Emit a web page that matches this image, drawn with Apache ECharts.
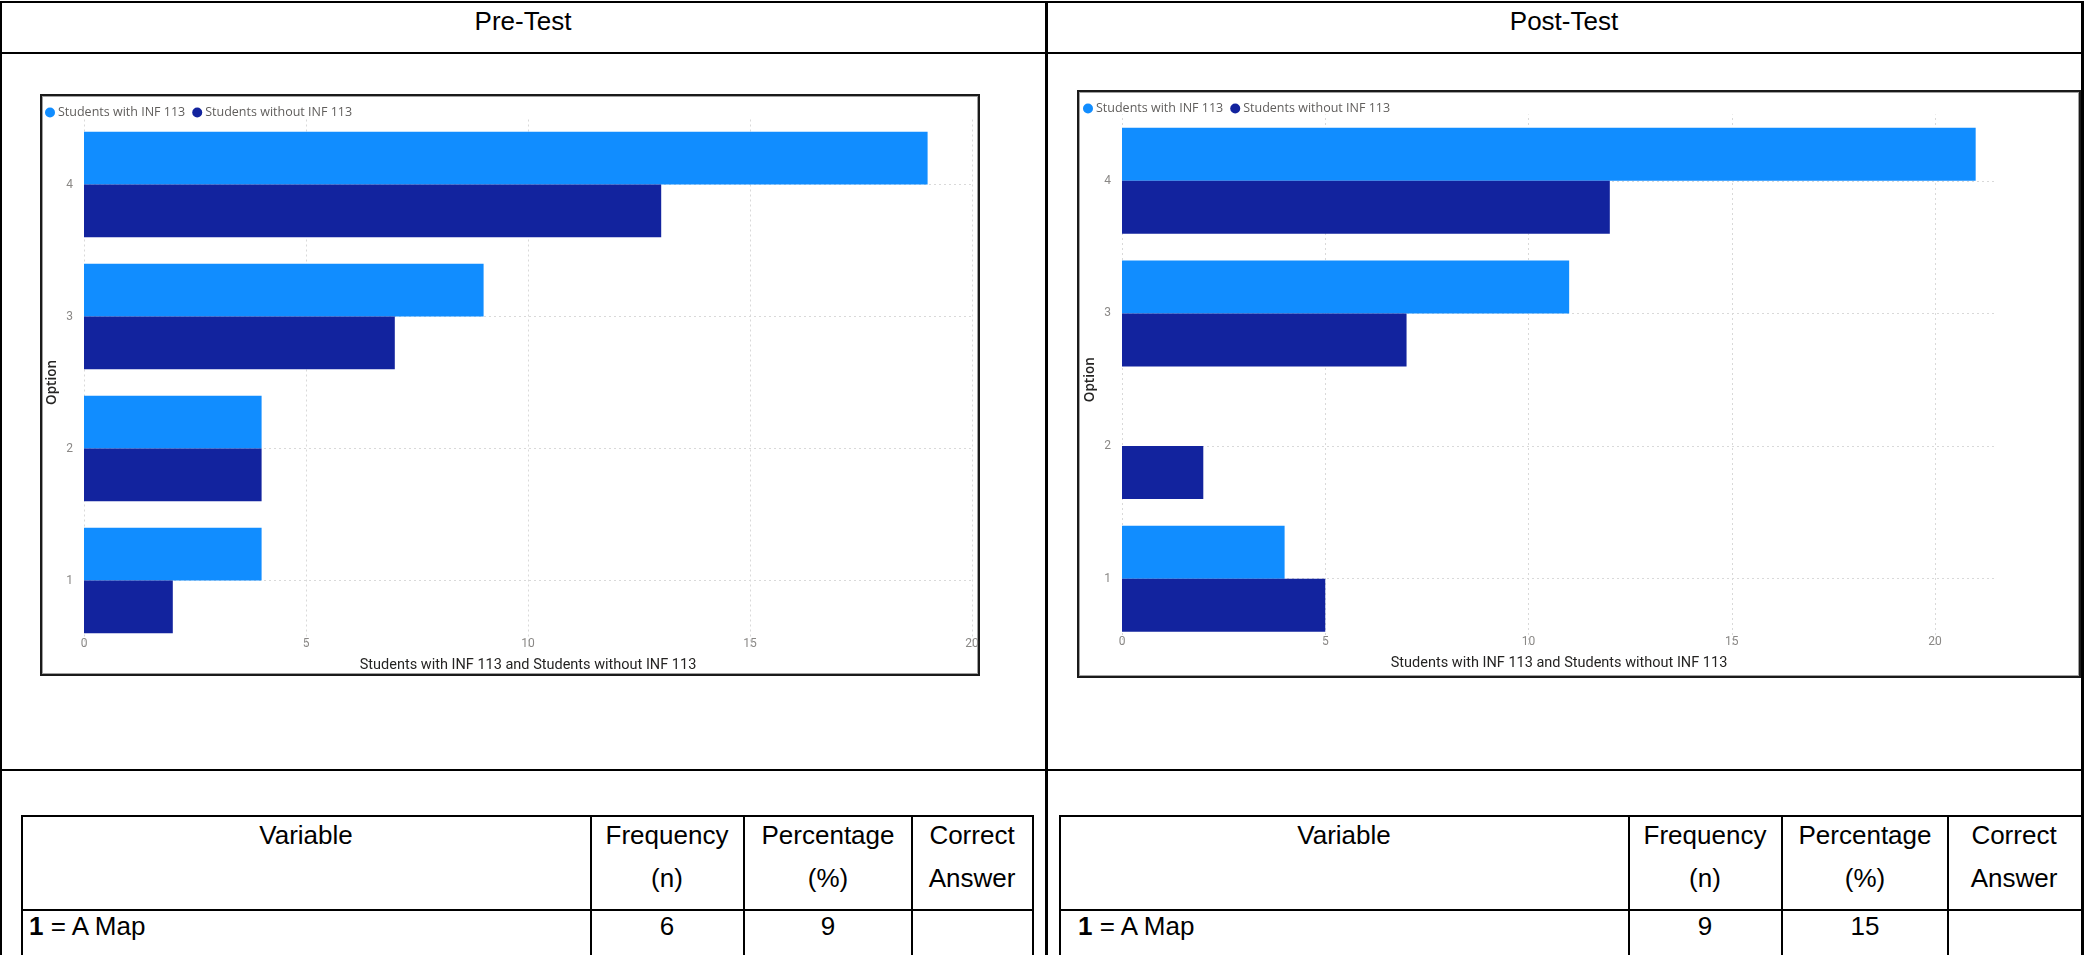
<!DOCTYPE html>
<html>
<head>
<meta charset="utf-8">
<title>Pre-Test / Post-Test</title>
<script src="https://cdn.jsdelivr.net/npm/echarts@6/dist/echarts.min.js"></script>
<style>
  html, body { margin: 0; padding: 0; background: #fff; }
  body { width: 2084px; height: 955px; position: relative; overflow: hidden;
         font-family: 'Liberation Sans', Arial, sans-serif; }
  .ln { position: absolute; background: #000; }
  .t { position: absolute; font-size: 26px; line-height: 30px; color: #000;
       white-space: nowrap; }
  .c { transform: translateX(-50%); }
  .frame { position: absolute; box-sizing: border-box; border: 2px solid #1a1a1a;
           box-shadow: inset 0 0 0 1px #a0a0a0; background: #fff; }
  #chart { position: absolute; left: 0; top: 0; width: 2084px; height: 955px; }
</style>
</head>
<body>

<!-- outer document table -->
<div class="ln" style="left:0;top:1px;width:2084px;height:2px"></div>
<div class="ln" style="left:0;top:1px;width:2px;height:954px"></div>
<div class="ln" style="left:2081px;top:1px;width:3px;height:954px"></div>
<div class="ln" style="left:1045px;top:1px;width:3px;height:954px"></div>
<div class="ln" style="left:0;top:52px;width:2084px;height:2px"></div>
<div class="ln" style="left:0;top:769px;width:2084px;height:2px"></div>

<div class="t c" style="left:523px;top:6px">Pre-Test</div>
<div class="t c" style="left:1564px;top:6px">Post-Test</div>

<!-- chart frames -->
<div class="frame" style="left:40px;top:94px;width:940px;height:582px"></div>
<div class="frame" style="left:1077px;top:90px;width:1004px;height:588px"></div>

<!-- left summary table -->
<div class="ln" style="left:21px;top:815px;width:1013px;height:2px"></div>
<div class="ln" style="left:21px;top:909px;width:1013px;height:2px"></div>
<div class="ln" style="left:21px;top:815px;width:2px;height:140px"></div>
<div class="ln" style="left:590px;top:815px;width:2px;height:140px"></div>
<div class="ln" style="left:743px;top:815px;width:2px;height:140px"></div>
<div class="ln" style="left:911px;top:815px;width:2px;height:140px"></div>
<div class="ln" style="left:1032px;top:815px;width:2px;height:140px"></div>

<div class="t c" style="left:306px;top:820px">Variable</div>
<div class="t c" style="left:667px;top:820px">Frequency</div>
<div class="t c" style="left:667px;top:863px">(n)</div>
<div class="t c" style="left:828px;top:820px">Percentage</div>
<div class="t c" style="left:828px;top:863px">(%)</div>
<div class="t c" style="left:972px;top:820px">Correct</div>
<div class="t c" style="left:972px;top:863px">Answer</div>
<div class="t" style="left:29px;top:911px"><b>1</b> = A Map</div>
<div class="t c" style="left:667px;top:911px">6</div>
<div class="t c" style="left:828px;top:911px">9</div>

<!-- right summary table -->
<div class="ln" style="left:1059px;top:815px;width:1023px;height:2px"></div>
<div class="ln" style="left:1059px;top:909px;width:1023px;height:2px"></div>
<div class="ln" style="left:1059px;top:815px;width:2px;height:140px"></div>
<div class="ln" style="left:1628px;top:815px;width:2px;height:140px"></div>
<div class="ln" style="left:1781px;top:815px;width:2px;height:140px"></div>
<div class="ln" style="left:1947px;top:815px;width:2px;height:140px"></div>

<div class="t c" style="left:1344px;top:820px">Variable</div>
<div class="t c" style="left:1705px;top:820px">Frequency</div>
<div class="t c" style="left:1705px;top:863px">(n)</div>
<div class="t c" style="left:1865px;top:820px">Percentage</div>
<div class="t c" style="left:1865px;top:863px">(%)</div>
<div class="t c" style="left:2014px;top:820px">Correct</div>
<div class="t c" style="left:2014px;top:863px">Answer</div>
<div class="t" style="left:1078px;top:911px"><b>1</b> = A Map</div>
<div class="t c" style="left:1705px;top:911px">9</div>
<div class="t c" style="left:1865px;top:911px">15</div>

<div id="chart"></div>

<script>
// Answer options on the vertical axis (bottom to top)
const categories = ['1', '2', '3', '4'];
const seriesNames = ['Students with INF 113', 'Students without INF 113'];

// Pre-test counts per option
const preWith = [4, 4, 9, 19];
const preWithout = [2, 4, 7, 13];

// Post-test counts per option
const postWith = [4, 0, 11, 21];
const postWithout = [5, 2, 7, 12];

// Value-axis ticks
const xTicks = [0, 5, 10, 15, 20];

const colorWith = '#118DFF';
const colorWithout = '#12239E';
const labelFont = "Roboto, 'DejaVu Sans', sans-serif";
const legendFont = "'Open Sans', 'Noto Sans', sans-serif";
const xTitle = 'Students with INF 113 and Students without INF 113';

function valueAxis(gridIndex, max) {
  return {
    type: 'value', gridIndex, min: 0, max, interval: 5,
    axisLine: { show: false }, axisTick: { show: false }, splitLine: { show: false },
    axisLabel: { color: '#8a8886', fontSize: 12, fontFamily: labelFont, margin: -9,
                 showMaxLabel: max % 5 === 0 },
    name: xTitle, nameLocation: 'middle', nameGap: 11,
    nameTextStyle: { color: '#252423', fontSize: 14.5, fontFamily: labelFont }
  };
}

function categoryAxis(gridIndex) {
  return {
    type: 'category', gridIndex, data: categories,
    axisLine: { show: false }, axisTick: { show: false }, splitLine: { show: false },
    axisLabel: { color: '#8a8886', fontSize: 12, fontFamily: labelFont, margin: 11 },
    name: 'Option', nameLocation: 'middle', nameGap: 25,
    nameTextStyle: { color: '#252423', fontSize: 13.5, fontWeight: 600, fontFamily: legendFont }
  };
}

function barSeries(idx, name, color, data) {
  return {
    type: 'bar', name, xAxisIndex: idx, yAxisIndex: idx, data,
    barGap: '0%', barCategoryGap: '20%',
    itemStyle: { color }, z: 5
  };
}

// Dotted gridlines: one per category centre and one per value tick, kept under the bars
function gridSeries(idx) {
  return {
    type: 'line', name: 'grid' + idx, xAxisIndex: idx, yAxisIndex: idx, data: [],
    z: 0, silent: true,
    markLine: {
      z: 0, silent: true, symbol: ['none', 'none'], label: { show: false }, animation: false,
      lineStyle: { type: [2, 3], color: '#d9d9d9', width: 1 },
      emphasis: { disabled: true },
      data: categories.map(c => ({ yAxis: c })).concat(xTicks.map(v => ({ xAxis: v })))
    }
  };
}

function legend(left, top) {
  return {
    left, top, padding: 0, itemGap: 7, icon: 'circle', itemWidth: 10, itemHeight: 10,
    data: seriesNames, selectedMode: false,
    textStyle: { color: '#605E5C', fontSize: 12.5, fontFamily: legendFont, padding: [0, 0, 0, -2] }
  };
}

const chart = echarts.init(document.getElementById('chart'), null, { renderer: 'canvas' });
chart.setOption({
  animation: false,
  backgroundColor: 'transparent',
  legend: [legend(45, 106), legend(1083, 102)],
  grid: [
    { left: 84, top: 118.5, width: 888, height: 528, outerBoundsMode: 'none', containLabel: false },
    { left: 1122, top: 114.5, width: 874, height: 530.5, outerBoundsMode: 'none', containLabel: false }
  ],
  xAxis: [valueAxis(0, 20), valueAxis(1, 21.5)],
  yAxis: [categoryAxis(0), categoryAxis(1)],
  series: [
    gridSeries(0),
    barSeries(0, seriesNames[0], colorWith, preWith),
    barSeries(0, seriesNames[1], colorWithout, preWithout),
    gridSeries(1),
    barSeries(1, seriesNames[0], colorWith, postWith),
    barSeries(1, seriesNames[1], colorWithout, postWithout)
  ]
});
</script>
</body>
</html>
